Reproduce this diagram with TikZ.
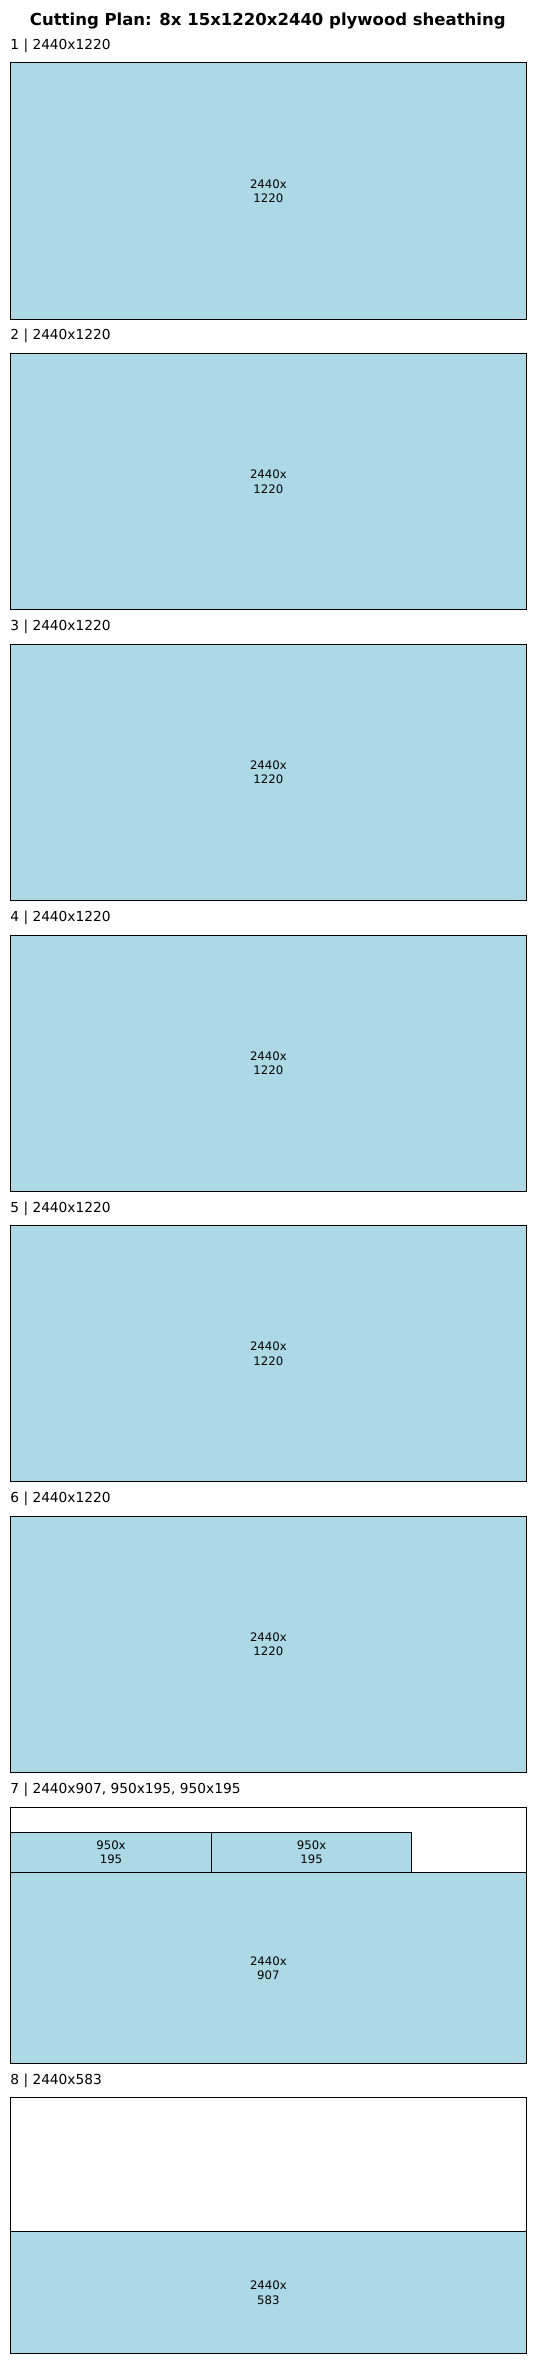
\documentclass[tikz,border=0pt]{standalone}
\usepackage{fontspec}
\setmainfont{DejaVu Sans}
\definecolor{partblue}{HTML}{ADD8E6}
\begin{document}
\begin{tikzpicture}[x=1pt,y=-1pt,
  sheetbox/.style={draw=black, line width=1pt, fill=white, anchor=north west, inner sep=0pt, minimum width=515.3pt, minimum height=256pt},
  piece/.style={draw=black, line width=1pt, fill=partblue, anchor=north west, inner sep=0pt, align=center, font=\fontsize{11.7}{14.3}\selectfont},
  sheetlabel/.style={anchor=base west, inner sep=0pt, font=\fontsize{13.75}{16}\selectfont},
  titlestyle/.style={anchor=base, inner sep=0pt, font=\fontsize{16.5}{19}\selectfont\bfseries}]
\useasboundingbox (0,0) rectangle (534,2363);
\node[titlestyle] (title) at (267.8,25.5) {Cutting Plan: 8x 15x1220x2440 plywood sheathing};
\foreach \k in {1,...,6} {
  \pgfmathsetmacro\T{62.5+(\k-1)*290.7}
  \node[sheetlabel] (lab\k) at (10.2,\T-13.3) {\k\ | 2440x1220};
  \node[piece, minimum width=515.3pt, minimum height=256pt] (p\k) at (10.2,\T) {2440x\\1220};
}
% sheet 7
\pgfmathsetmacro\Ts{62.5+6*290.7}
\node[sheetlabel] (lab7) at (10.2,\Ts-13.3) {7 | 2440x907, 950x195, 950x195};
\node[sheetbox] (sheet7) at (10.2,\Ts) {};
\node[piece, minimum width=200.6pt, minimum height=40.9pt] (p7b) at (10.2,\Ts+24.8) {950x\\195};
\node[piece, minimum width=200.6pt, minimum height=40.9pt] (p7c) at (210.8,\Ts+24.8) {950x\\195};
\node[piece, minimum width=515.3pt, minimum height=190.3pt] (p7a) at (10.2,\Ts+65.7) {2440x\\907};
% sheet 8
\pgfmathsetmacro\Te{62.5+7*290.7}
\node[sheetlabel] (lab8) at (10.2,\Te-13.3) {8 | 2440x583};
\node[sheetbox] (sheet8) at (10.2,\Te) {};
\node[piece, minimum width=515.3pt, minimum height=122.3pt] (p8a) at (10.2,\Te+133.7) {2440x\\583};
\end{tikzpicture}
\end{document}
